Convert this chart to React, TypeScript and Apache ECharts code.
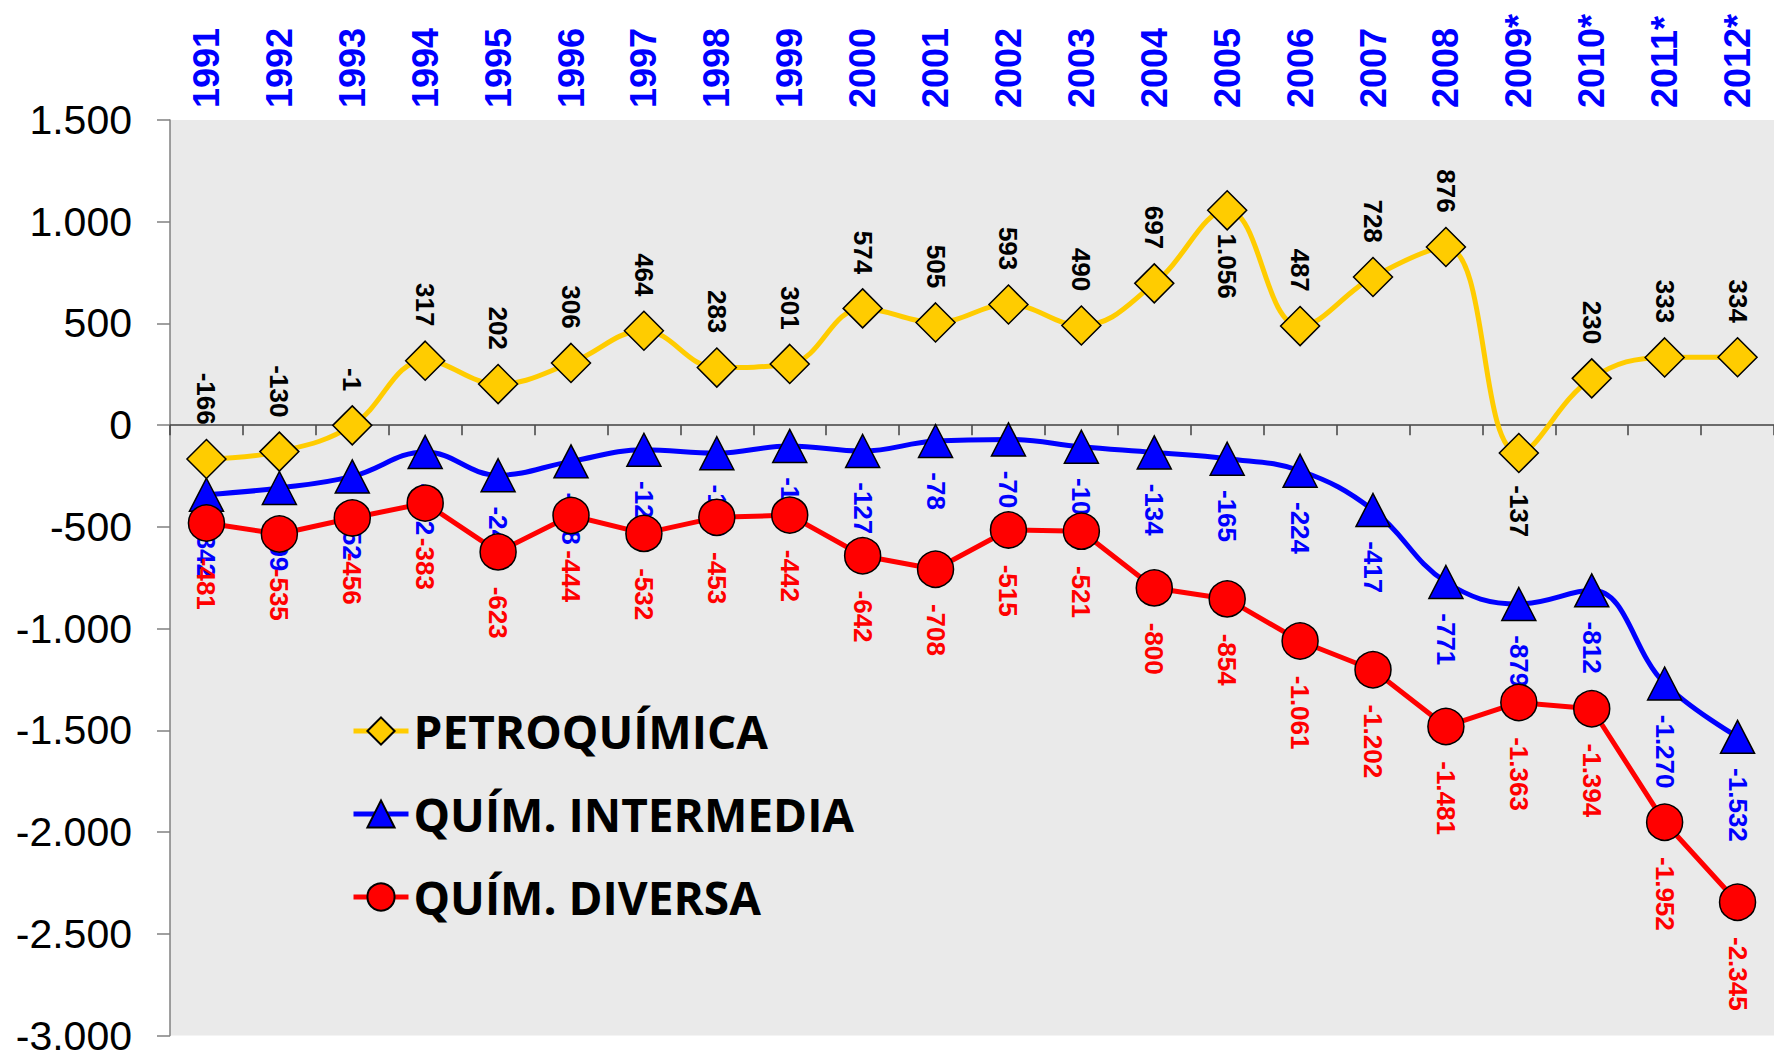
import React, { useEffect, useRef } from "react";
import * as echarts from "echarts";

const years = ["1991","1992","1993","1994","1995","1996","1997","1998","1999","2000","2001","2002","2003","2004","2005","2006","2007","2008","2009*","2010*","2011*","2012*"];
const petroquimica = [-166,-130,-1,317,202,306,464,283,301,574,505,593,490,697,1056,487,728,876,-137,230,333,334];
const intermedia = [-342,-309,-252,-132,-246,-178,-121,-138,-102,-127,-78,-70,-106,-134,-165,-224,-417,-771,-879,-812,-1270,-1532];
const diversa = [-481,-535,-456,-383,-623,-444,-532,-453,-442,-642,-708,-515,-521,-800,-854,-1061,-1202,-1481,-1363,-1394,-1952,-2345];
const petroLabelBelow = ["2005", "2009*"];
const seriesNames = ["PETROQUÍMICA", "QUÍM. INTERMEDIA", "QUÍM. DIVERSA"];

function fmt(v: number): string {
  const s = Math.abs(Math.round(v)).toString().replace(/\B(?=(\d{3})+(?!\d))/g, ".");
  return (v < 0 ? "-" : "") + s;
}

export default function App() {
  const ref = useRef<HTMLDivElement>(null);
  useEffect(() => {
    if (!ref.current) return;
    const chart = echarts.init(ref.current, null, { renderer: "svg" });
    const labelFont = { fontFamily: "Liberation Sans", fontWeight: "bold" as const, fontSize: 26 };
    const above = { show: true, position: "top", rotate: -90, align: "right", verticalAlign: "middle", distance: 14, formatter: (p: any) => fmt(p.value), ...labelFont };
    const below = { show: true, position: "bottom", rotate: -90, align: "left", verticalAlign: "middle", distance: 14, formatter: (p: any) => fmt(p.value), ...labelFont };
    chart.setOption({
      animation: false,
      backgroundColor: "#FFFFFF",
      grid: { left: 170, right: -10, top: 120, bottom: 17, show: true, backgroundColor: "#EAEAEA", borderWidth: 0 },
      legend: {
        show: true,
        orient: "vertical",
        left: 351,
        top: 708,
        padding: 0,
        itemWidth: 55,
        itemHeight: 34,
        itemGap: 37,
        data: seriesNames,
        lineStyle: { width: 5 },
        textStyle: { fontFamily: "Open Sans", fontWeight: "bold", fontSize: 46, color: "#000" },
      },
      xAxis: [
        {
          type: "category",
          data: years,
          position: "top",
          boundaryGap: true,
          axisLine: { show: false, onZero: false },
          axisTick: { show: false },
          axisLabel: { interval: 0, rotate: -90, margin: 12, color: "#0000FF", fontFamily: "Liberation Sans", fontWeight: "bold", fontSize: 36 },
          splitLine: { show: false },
        },
        {
          type: "category",
          data: years,
          position: "bottom",
          boundaryGap: true,
          axisLine: { show: true, onZero: true, onZeroAxisIndex: 0, lineStyle: { color: "#404040", width: 1.5 } },
          axisTick: { show: true, length: 10, interval: 0, lineStyle: { color: "#404040", width: 1.5 } },
          axisLabel: { show: false },
          splitLine: { show: false },
        },
      ],
      yAxis: {
        type: "value",
        min: -3000,
        max: 1500,
        interval: 500,
        axisLine: { show: true, onZero: false, lineStyle: { color: "#808080", width: 1.5 } },
        axisTick: { show: true, length: 13, lineStyle: { color: "#808080", width: 1.5 } },
        axisLabel: { margin: 38, color: "#000", fontFamily: "Liberation Sans", fontSize: 41, formatter: (v: number) => fmt(v) },
        splitLine: { show: false },
      },
      series: [
        {
          name: seriesNames[1],
          type: "line",
          xAxisIndex: 0,
          smooth: 0.4,
          data: intermedia,
          symbol: "triangle",
          symbolSize: [34, 33],
          lineStyle: { color: "#0000FF", width: 5 },
          itemStyle: { color: "#0000FF", borderColor: "#000", borderWidth: 1.5 },
          label: { ...below, color: "#0000FF" },
          z: 3,
        },
        {
          name: seriesNames[2],
          type: "line",
          xAxisIndex: 0,
          smooth: false,
          data: diversa,
          symbol: "circle",
          symbolSize: 36,
          lineStyle: { color: "#FF0000", width: 5 },
          itemStyle: { color: "#FF0000", borderColor: "#000", borderWidth: 1.5 },
          label: { ...below, color: "#FF0000", distance: 16 },
          z: 4,
        },
        {
          name: seriesNames[0],
          type: "line",
          xAxisIndex: 0,
          smooth: 0.4,
          data: petroquimica.map((v, i) =>
            petroLabelBelow.includes(years[i])
              ? { value: v, label: { ...below, color: "#000", distance: v > 0 ? 3 : 12 } }
              : v
          ),
          symbol: "diamond",
          symbolSize: 39,
          lineStyle: { color: "#FFCC00", width: 5 },
          itemStyle: { color: "#FFCC00", borderColor: "#000", borderWidth: 1.5 },
          label: { ...above, color: "#000" },
          z: 5,
        },
      ],
    });
    return () => chart.dispose();
  }, []);
  return <div ref={ref} style={{ position: "absolute", left: 0, top: 0, width: 1774, height: 1056 }} />;
}
